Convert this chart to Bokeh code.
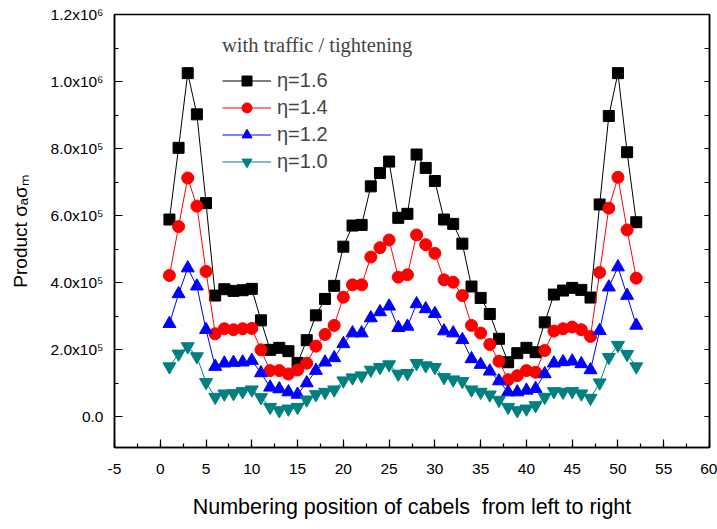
from bokeh.plotting import figure
from bokeh.models import (SingleIntervalTicker, LinearAxis, Range1d, Legend, LegendItem,
                          CustomJSTickFormatter)
from bokeh.embed import file_html
from bokeh.resources import INLINE

# ---- data ----
cable = list(range(1, 53))

eta16 = [5.88e5, 8.02e5, 10.25e5, 9.02e5, 6.37e5, 3.61e5, 3.80e5, 3.75e5, 3.77e5, 3.81e5,
         2.87e5, 1.99e5, 2.05e5, 1.95e5, 1.60e5, 2.28e5, 3.02e5, 3.51e5, 3.90e5, 5.07e5,
         5.70e5, 5.72e5, 6.87e5, 7.27e5, 7.61e5, 5.93e5, 6.05e5, 7.82e5, 7.42e5, 7.03e5,
         5.88e5, 5.75e5, 5.16e5, 3.88e5, 3.54e5, 3.06e5, 2.32e5, 1.62e5, 1.89e5, 2.05e5,
         1.92e5, 2.81e5, 3.64e5, 3.76e5, 3.84e5, 3.78e5, 3.55e5, 6.33e5, 8.97e5, 10.25e5,
         7.89e5, 5.80e5]

eta14 = [4.21e5, 5.67e5, 7.12e5, 6.28e5, 4.33e5, 2.47e5, 2.62e5, 2.59e5, 2.62e5, 2.63e5,
         1.99e5, 1.37e5, 1.37e5, 1.27e5, 1.39e5, 1.59e5, 2.10e5, 2.45e5, 2.72e5, 3.56e5,
         3.93e5, 3.93e5, 4.76e5, 5.04e5, 5.27e5, 4.16e5, 4.23e5, 5.42e5, 5.13e5, 4.87e5,
         4.08e5, 4.01e5, 3.61e5, 2.72e5, 2.49e5, 2.15e5, 1.65e5, 1.10e5, 1.22e5, 1.37e5,
         1.32e5, 1.97e5, 2.55e5, 2.62e5, 2.67e5, 2.59e5, 2.39e5, 4.30e5, 6.22e5, 7.14e5,
         5.57e5, 4.13e5]

eta12 = [2.77e5, 3.66e5, 4.43e5, 3.89e5, 2.59e5, 1.49e5, 1.59e5, 1.61e5, 1.62e5, 1.67e5,
         1.30e5, 0.87e5, 0.82e5, 0.73e5, 0.66e5, 1.00e5, 1.37e5, 1.62e5, 1.75e5, 2.17e5,
         2.49e5, 2.49e5, 2.94e5, 3.12e5, 3.29e5, 2.65e5, 2.69e5, 3.36e5, 3.21e5, 3.07e5,
         2.55e5, 2.49e5, 2.29e5, 1.72e5, 1.55e5, 1.35e5, 1.06e5, 0.73e5, 0.73e5, 0.78e5,
         0.83e5, 1.27e5, 1.59e5, 1.63e5, 1.65e5, 1.57e5, 1.39e5, 2.56e5, 3.86e5, 4.46e5,
         3.61e5, 2.72e5]

eta10 = [1.49e5, 1.87e5, 2.09e5, 1.79e5, 1.02e5, 0.58e5, 0.68e5, 0.69e5, 0.75e5, 0.80e5,
         0.57e5, 0.28e5, 0.18e5, 0.23e5, 0.28e5, 0.50e5, 0.66e5, 0.73e5, 0.80e5, 1.07e5,
         1.16e5, 1.22e5, 1.39e5, 1.47e5, 1.55e5, 1.27e5, 1.29e5, 1.59e5, 1.52e5, 1.47e5,
         1.17e5, 1.10e5, 1.05e5, 0.80e5, 0.73e5, 0.65e5, 0.49e5, 0.28e5, 0.18e5, 0.23e5,
         0.33e5, 0.58e5, 0.75e5, 0.73e5, 0.75e5, 0.68e5, 0.55e5, 1.01e5, 1.77e5, 2.13e5,
         1.86e5, 1.49e5]

series_labels = ["\u03b7=1.6", "\u03b7=1.4", "\u03b7=1.2", "\u03b7=1.0"]
legend_title = "with traffic / tightening"

y_ticks = [0, 200000, 400000, 600000, 800000, 1000000, 1200000]
y_tick_labels = ["0.0", "2.0x10\u2075", "4.0x10\u2075", "6.0x10\u2075",
                 "8.0x10\u2075", "1.0x10\u2076", "1.2x10\u2076"]
x_ticks_override = {-5: "-5"}

x_title = "Numbering position of cabels\u00a0 from left to right"
y_title = "Product \u03c3\u2090\u03c3\u2098"

# ---- figure ----
p = figure(width=717, height=529, output_backend="svg", toolbar_location=None,
           x_range=Range1d(-5, 60), y_range=Range1d(-92500, 1200000),
           min_border_left=114, min_border_right=8, min_border_top=14,
           min_border_bottom=82)
p.grid.visible = False
p.outline_line_color = "black"
p.outline_line_width = 1.5
p.background_fill_color = "white"
p.border_fill_color = "white"

FONT = "Liberation Sans"

p.xaxis.ticker = SingleIntervalTicker(interval=5, num_minor_ticks=2)
p.yaxis.ticker = SingleIntervalTicker(interval=200000, num_minor_ticks=2)
p.yaxis.major_label_overrides = dict(zip(y_ticks, y_tick_labels))
p.xaxis.major_label_overrides = x_ticks_override

for ax in (p.xaxis[0], p.yaxis[0]):
    ax.axis_line_width = 1.5
    ax.major_tick_in = 8
    ax.major_tick_out = 0
    ax.minor_tick_in = 4
    ax.minor_tick_out = 0
    ax.major_tick_line_width = 1.2
    ax.minor_tick_line_width = 1.2
    ax.major_label_text_font = FONT
    ax.major_label_text_font_size = "15.5px"
    ax.major_label_text_color = "black"
    ax.axis_label_text_font = FONT
    ax.axis_label_text_font_style = "normal"
    ax.axis_label_text_color = "black"

p.xaxis.axis_label = x_title
p.xaxis.axis_label_text_font_size = "21.5px"
p.xaxis.major_label_standoff = 16
p.xaxis.axis_label_standoff = 18

p.yaxis.axis_label = y_title
p.yaxis.axis_label_text_font_size = "19px"
p.yaxis.major_label_standoff = 11
p.yaxis.axis_label_standoff = 17

right = LinearAxis(ticker=SingleIntervalTicker(interval=200000, num_minor_ticks=2),
                   formatter=CustomJSTickFormatter(code="return ''"),
                   major_label_standoff=0, axis_line_width=1.5,
                   major_tick_in=5, major_tick_out=0, minor_tick_in=5, minor_tick_out=0)
p.add_layout(right, "right")

styles = [
    (eta16, "black", "square", 11),
    (eta14, "red", "circle", 12),
    (eta12, "blue", "triangle", 13),
    (eta10, "#008080", "inverted_triangle", 13),
]

items = []
for (ys, color, marker, size), lab in zip(styles, series_labels):
    rl = p.line(cable, ys, line_color=color, line_width=1)
    rm = p.scatter(cable, ys, marker=marker, size=size, fill_color=color, line_color=color)
    items.append(LegendItem(label=lab, renderers=[rl, rm]))

legend = Legend(items=items, location=(108, 273), title=legend_title,
                title_text_font="Liberation Serif", title_text_font_size="20.5px",
                title_text_font_style="normal", title_standoff=11,
                label_text_font=FONT, label_text_font_size="20px",
                glyph_width=49, glyph_height=25, label_height=25, label_standoff=6,
                spacing=2, padding=0, margin=0,
                border_line_color=None, background_fill_alpha=0)
p.add_layout(legend)

open("out.html", "w").write(file_html(p, INLINE))
